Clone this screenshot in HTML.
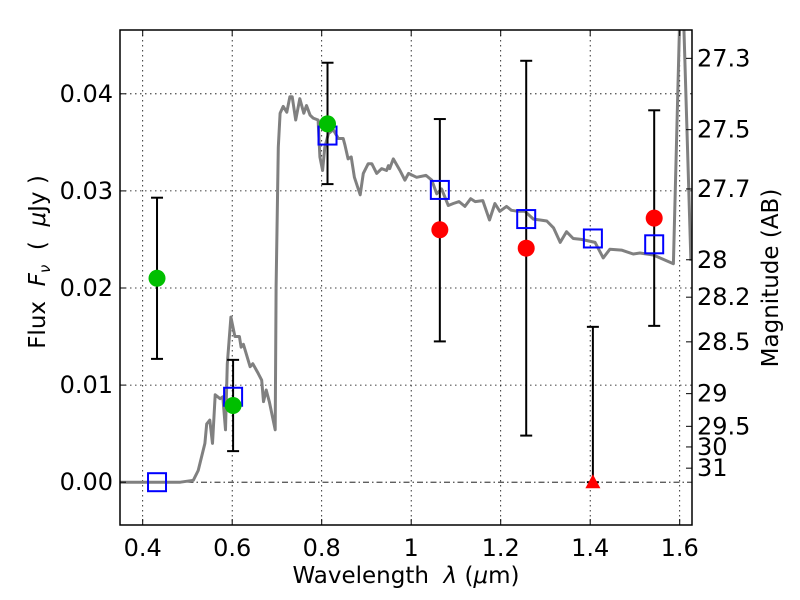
<!DOCTYPE html>
<html><head><meta charset="utf-8"><style>
html,body{margin:0;padding:0;background:#fff;}
svg{display:block;font-family:"DejaVu Sans","Liberation Sans",sans-serif;}
</style></head><body>
<svg id="chart" width="800" height="600" viewBox="0 0 800 600" xmlns="http://www.w3.org/2000/svg">
<defs><clipPath id="plotclip"><rect x="120" y="30" width="572" height="495"/></clipPath></defs>
<rect x="0" y="0" width="800" height="600" fill="#fff"/>
<g id="grid"></g>
<g id="marks" clip-path="url(#plotclip)"></g>
<g id="overlay"></g>
<rect x="120" y="30" width="572" height="495" fill="none" stroke="#000" stroke-width="1.5"/>
<g id="axes"></g>
<text x="406" y="583" font-size="23" text-anchor="middle" xml:space="preserve">Wavelength  <tspan font-style="italic">λ</tspan> (<tspan font-style="italic">μ</tspan>m)</text>
<text transform="translate(45,262) rotate(-90)" font-size="23" text-anchor="middle" xml:space="preserve">Flux  <tspan font-style="italic">F</tspan><tspan font-style="italic" font-size="15" dy="5">ν</tspan><tspan dy="-5">  (  </tspan><tspan font-style="italic">μ</tspan>Jy )</text>
<text transform="translate(778,278) rotate(-90)" font-size="23" text-anchor="middle">Magnitude (AB)</text>
</svg>
<script>
const xTicks = [0.4, 0.6, 0.8, 1.0, 1.2, 1.4, 1.6];
const xTickLabels = ["0.4", "0.6", "0.8", "1", "1.2", "1.4", "1.6"];
const yTicks = [0.0, 0.01, 0.02, 0.03, 0.04];
const yTickLabels = ["0.00", "0.01", "0.02", "0.03", "0.04"];
const magTicks = [27.3, 27.5, 27.7, 28, 28.2, 28.5, 29, 29.5, 30, 31];
const magTickLabels = ["27.3", "27.5", "27.7", "28", "28.2", "28.5", "29", "29.5", "30", "31"];
const specWave = [0.35,0.484,0.513,0.524,0.539,0.543,0.550,0.556,0.562,0.573,0.579,0.585,0.589,0.597,0.606,0.616,0.620,0.625,0.640,0.646,0.658,0.666,0.670,0.676,0.683,0.696,0.698,0.703,0.707,0.714,0.722,0.729,0.734,0.742,0.751,0.760,0.766,0.774,0.781,0.792,0.796,0.802,0.807,0.815,0.826,0.837,0.848,0.852,0.859,0.866,0.873,0.886,0.893,0.904,0.912,0.923,0.934,0.945,0.949,0.952,0.960,0.975,0.986,0.994,1.012,1.033,1.046,1.057,1.068,1.083,1.094,1.107,1.120,1.133,1.143,1.160,1.175,1.187,1.198,1.213,1.224,1.239,1.254,1.273,1.288,1.303,1.318,1.333,1.347,1.362,1.380,1.411,1.429,1.444,1.470,1.496,1.511,1.541,1.586,1.604,1.625];
const specFlux = [0,0,0.0002,0.0012,0.004,0.006,0.0064,0.004,0.009,0.0086,0.0088,0.0054,0.0122,0.0170,0.0150,0.0150,0.0139,0.0142,0.0119,0.0122,0.0112,0.0105,0.0083,0.0095,0.0083,0.0054,0.0201,0.0345,0.038,0.0387,0.0381,0.0397,0.0397,0.0373,0.0395,0.038,0.0388,0.0378,0.0375,0.0373,0.0335,0.0321,0.0345,0.0359,0.0363,0.0354,0.0354,0.0347,0.0333,0.0335,0.0314,0.0296,0.0318,0.0328,0.0328,0.0318,0.0323,0.0321,0.0326,0.0323,0.0333,0.0321,0.0311,0.0318,0.0314,0.0316,0.0311,0.0297,0.0302,0.0285,0.0287,0.0289,0.0284,0.0292,0.0289,0.029,0.027,0.0287,0.0279,0.0284,0.028,0.0279,0.0279,0.0271,0.0270,0.0269,0.0262,0.0247,0.0258,0.0251,0.0250,0.0247,0.0231,0.024,0.0239,0.0235,0.0236,0.0234,0.0225,0.055,0.0228];
const modelWave = [0.432,0.602,0.813,1.064,1.257,1.406,1.543];
const modelFlux = [0.0,0.0088,0.0357,0.0301,0.0271,0.0251,0.0245];
const greenWave = [0.432,0.602,0.813];
const greenFlux = [0.0210,0.0079,0.0369];
const greenLo = [0.0127,0.0032,0.0307];
const greenHi = [0.0293,0.0126,0.0432];
const redWave = [1.064,1.257,1.543];
const redFlux = [0.0260,0.0241,0.0272];
const redLo = [0.0145,0.0048,0.0161];
const redHi = [0.0374,0.0434,0.0383];
const limWave = [1.406];
const limFlux = [0.0];
const limHi = [0.0160];

const NS='http://www.w3.org/2000/svg';
const X0=120, X1=692, Y0=30, Y1=525;
function xs(l){return 142.7+(l-0.4)*447.5;}
function ys(f){return 482.2-f*9710;}
function magToFlux(m){return Math.pow(10,(23.9-m)/2.5);}
function mk(parent,tag,attrs){const e=document.createElementNS(NS,tag);for(const k in attrs)e.setAttribute(k,attrs[k]);parent.appendChild(e);return e;}
const grid=document.getElementById('grid'), marks=document.getElementById('marks'), axes=document.getElementById('axes'), overlay=document.getElementById('overlay');

xTicks.forEach((t,i)=>{
  const x=xs(t);
  const g=mk(grid,'line',{x1:x,x2:x,y1:Y0,y2:Y1,stroke:'#000','stroke-width':0.8,'stroke-dasharray':'1.5,3.5'});
  
  
  mk(axes,'line',{x1:x,x2:x,y1:Y1,y2:Y1-6,stroke:'#000','stroke-width':1});
  mk(axes,'line',{x1:x,x2:x,y1:Y0,y2:Y0+6,stroke:'#000','stroke-width':1});
  const tx=mk(axes,'text',{x:x,y:556,'font-size':24,'text-anchor':'middle'});
  tx.textContent=xTickLabels[i];
  
  
});
yTicks.forEach((t,i)=>{
  const y=ys(t);
  const g=mk(grid,'line',{x1:X0,x2:X1,y1:y,y2:y,stroke:'#000','stroke-width':0.8,'stroke-dasharray':t===0?'6,3,1.5,3':'1.5,3.5'});
  
  
  mk(axes,'line',{x1:X0,x2:X0+6,y1:y,y2:y,stroke:'#000','stroke-width':1});
  const tx=mk(axes,'text',{x:113,y:y+8,'font-size':24,'text-anchor':'end'});
  tx.textContent=yTickLabels[i];
  
  
});
magTicks.forEach((m,i)=>{
  const y=ys(magToFlux(m));
  mk(axes,'line',{x1:X1,x2:X1-6,y1:y,y2:y,stroke:'#000','stroke-width':1});
  const tx=mk(axes,'text',{x:697,y:y+8,'font-size':24,'text-anchor':'start'});
  tx.textContent=magTickLabels[i];
  
  
});

const pts=specWave.map((w,i)=>xs(w).toFixed(1)+','+ys(specFlux[i]).toFixed(1)).join(' ');
const sp=mk(marks,'polyline',{points:pts,fill:'none',stroke:'#808080','stroke-width':3,'stroke-linejoin':'round'});



function errbar(w,lo,hi,name){
  const x=xs(w);
  const g=mk(overlay,'g',{stroke:'#000','stroke-width':2});
  
  
  mk(g,'line',{x1:x,x2:x,y1:ys(lo),y2:ys(hi)});
  mk(g,'line',{x1:x-6,x2:x+6,y1:ys(lo),y2:ys(lo)});
  mk(g,'line',{x1:x-6,x2:x+6,y1:ys(hi),y2:ys(hi)});
}
greenWave.forEach((w,i)=>errbar(w,greenLo[i],greenHi[i],'green-errorbar'));
redWave.forEach((w,i)=>errbar(w,redLo[i],redHi[i],'red-errorbar'));
limWave.forEach((w,i)=>errbar(w,limFlux[i],limHi[i],'upper-limit-errorbar'));

modelWave.forEach((w,i)=>{
  const r=mk(overlay,'rect',{x:xs(w)-9,y:ys(modelFlux[i])-9,width:18,height:18,fill:'none',stroke:'#0000ff','stroke-width':2});
  
  
});
greenWave.forEach((w,i)=>{
  const c=mk(overlay,'circle',{cx:xs(w),cy:ys(greenFlux[i]),r:8.5,fill:'#00bf00'});
  
  
});
redWave.forEach((w,i)=>{
  const c=mk(overlay,'circle',{cx:xs(w),cy:ys(redFlux[i]),r:8.5,fill:'#ff0000'});
  
  
});
limWave.forEach((w,i)=>{
  const x=xs(w), y=ys(limFlux[i]);
  const t=mk(overlay,'polygon',{points:`${x},${y-8} ${x-7.5},${y+6} ${x+7.5},${y+6}`,fill:'#ff0000'});
  
  
});
</script>
</body></html>
